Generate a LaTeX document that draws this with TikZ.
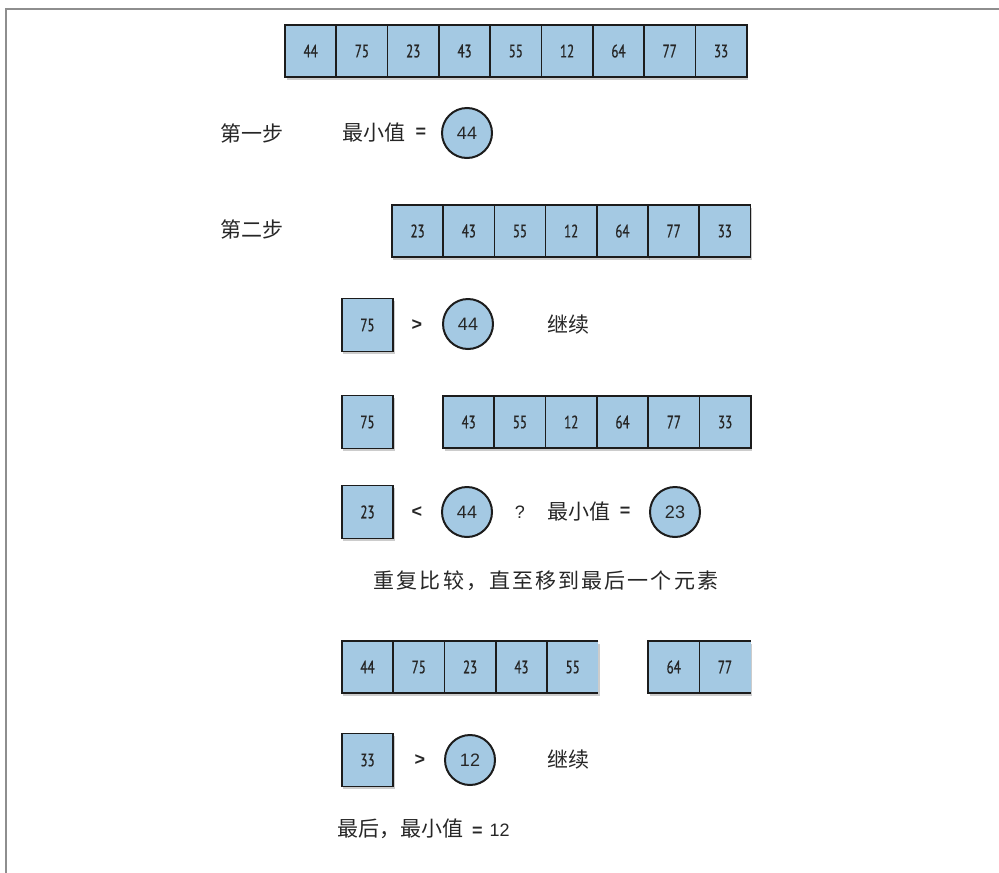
\documentclass[tikz,border=0pt]{standalone}
\usepackage{fontspec}
\setmainfont{Liberation Sans}
\newfontfamily\cjk{Noto Sans CJK SC}
\newfontfamily\cjkwide[LetterSpace=10]{Noto Sans CJK SC}
\newfontfamily\narrowdigits[FakeStretch=0.72,FakeBold=0.8]{PT Sans}
\usetikzlibrary{shadows,positioning}
\definecolor{cellblue}{HTML}{A4C9E3}
\definecolor{celledge}{HTML}{1C1C1C}
\definecolor{framegray}{HTML}{8E8E8E}
\definecolor{textgray}{HTML}{262626}
\newcommand\cellfont{\narrowdigits\fontsize{18}{20}\selectfont}
\newcommand\ballfont{\fontsize{18}{20}\selectfont}
\newcommand\cjkfont{\cjk\fontsize{21}{25}\selectfont}
\newcommand\symfont{\bfseries\fontsize{18}{20}\selectfont}

\begin{document}
\begin{tikzpicture}[x=1pt,y=-1pt,
  every node/.style={inner sep=0pt,outer sep=0pt,text=textgray},
  cellshadow/.style={drop shadow={shadow xshift=1.5pt,shadow yshift=-2.5pt,fill=black!40}},
  cell/.style={draw=celledge,line width=1.7pt,fill=cellblue,cellshadow,
    minimum width=51.3pt,minimum height=52pt,font=\cellfont},
  opencell/.style={cell,draw=none},
  single/.style={cell,minimum height=53pt},
  ball/.style={circle,draw=celledge,line width=2pt,fill=cellblue,
    minimum size=50pt,font=\ballfont},
  cjktext/.style={font=\cjkfont,anchor=west},
  sym/.style={font=\symfont}]
\useasboundingbox (0,0) rectangle (999,873);
\draw [framegray,line width=2pt] (999,9) -- (6,9) -- (6,873) ;

\foreach \v [count=\i] in {44,75,23,43,55,12,64,77,33}
  \node [cell] (a\i) at ({310.65+(\i-1)*51.3},51) {\v};

\node [cjktext] (step1) at (220,133) {第一步};
\node [cjktext] (min1) at (342,133) {最小值};
\node [sym] (eq1) at (421,133) {=};
\node [ball] (m1) at (467,133) {44};

\node [cjktext] (step2) at (220,229) {第二步};
\foreach \v [count=\i] in {23,43,55,12,64,77,33}
  \node [cell] (b\i) at ({417.6+(\i-1)*51.2},231) {\v};

\node [single] (c1) at (367.5,325) {75};
\node [sym] (gt1) at (417,325) {>};
\node [ball] (m2) at (468,324) {44};
\node [cjktext] (go1) at (547,325) {继续};

\node [single] (d1) at (367.5,422) {75};
\foreach \v [count=\i] in {43,55,12,64,77,33}
  \node [cell] (e\i) at ({468.65+(\i-1)*51.3},422) {\v};

\node [single] (f1) at (367.5,512) {23};
\node [sym] (lt1) at (417,512) {<};
\node [ball] (m3) at (467,512) {44};
\node [font=\ballfont] (ask) at (520,512) {?};
\node [cjktext] (min2) at (547,512) {最小值};
\node [sym] (eq2) at (625,512) {=};
\node [ball] (m4) at (675,512) {23};

\node [font=\cjkwide\fontsize{21}{25}\selectfont] (repeat) at (546,581)
  {重复比较，直至移到最后一个元素};

\foreach \v [count=\i] in {44,75,23,43}
  \node [cell] (g\i) at ({367.5+(\i-1)*51.3},667) {\v};
\node [opencell] (g5) at (572.7,667) {55};
\draw [celledge,line width=1.7pt] (g5.north east) -- (g5.north west)
  -- (g5.south west) -- (g5.south east) ;
\node [cell] (h1) at (673.7,667) {64};
\node [opencell] (h2) at (725,667) {77};
\draw [celledge,line width=1.7pt] (h2.north east) -- (h2.north west)
  -- (h2.south west) -- (h2.south east) ;

\node [single] (k1) at (367.5,760) {33};
\node [sym] (gt2) at (420,760) {>};
\node [ball] (m5) at (470,760) {12};
\node [cjktext] (go2) at (547,760) {继续};

\node [anchor=west] (last) at (337,829)
  {{\cjkfont 最后，最小值}\hspace{9pt}{\symfont =}\hspace{7pt}{\ballfont 12}};
\end{tikzpicture}
\end{document}
